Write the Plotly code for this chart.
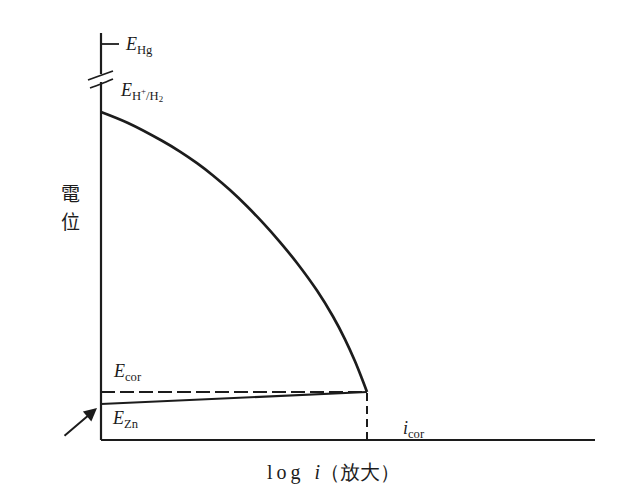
import plotly.graph_objects as go

# Schematic polarization diagram: potential vs log i (magnified)
# Units are arbitrary schematic units with the origin at the axis corner.

# cathodic curve of hydrogen evolution, from E(H+/H2) down to the corrosion point
curve_logi = [0, 27, 61, 79, 96, 112, 129, 146, 162, 179, 196, 216, 232, 244, 254, 261, 266]
curve_E = [328, 317, 299.2, 288.4, 276.8, 264.5, 249.9, 233.7, 217.1, 197.9, 177.0,
           149.4, 123.5, 100.7, 78.7, 61.2, 48]

# characteristic potentials
E_Hg = 396
E_H = 328
E_cor = 48
E_Zn = 36
i_cor = 266

# axis extents and break
axis_top = 407
axis_right = 494
break_low, break_high = 358, 367

INK = "#1c1c1c"
SERIF = "Liberation Serif, Times New Roman, serif"
CJK = "Noto Sans CJK TC, Noto Sans CJK JP, sans-serif"

fig = go.Figure()


def seg(xs, ys, width=2.0, dash="solid", shape="linear"):
    fig.add_trace(go.Scatter(
        x=xs, y=ys, mode="lines", hoverinfo="skip", showlegend=False,
        line=dict(color=INK, width=width, dash=dash, shape=shape),
    ))


# vertical potential axis, interrupted by a break
seg([0, 0], [0, break_low], width=2.2)
seg([0, 0], [break_high - 1, axis_top], width=2.2)
# break marks
seg([-13, -2, 12], [360, 364, 369], width=1.8, shape="spline")
seg([-11, 0, 12], [352, 356, 361], width=1.8, shape="spline")
# E_Hg tick
seg([0, 18], [E_Hg, E_Hg], width=1.8)

# horizontal log i axis
seg([0, axis_right], [0, 0], width=2.0)

# hydrogen cathodic curve
seg(curve_logi, curve_E, width=2.7, shape="spline")

# zinc anodic line from E_Zn to the corrosion point
seg([0, i_cor], [E_Zn, E_cor], width=2.2)

# dashed construction lines at E_cor and i_cor
seg([0, i_cor], [E_cor, E_cor], width=2.2, dash="14px,5px")
seg([i_cor, i_cor], [0, E_cor], width=2.0, dash="8px,5px")


def label(x, y, text, size=18, font=SERIF, xanchor="left"):
    fig.add_annotation(
        x=x, y=y, text=text, showarrow=False, xanchor=xanchor, yanchor="middle",
        font=dict(family=font, size=size, color=INK),
    )


label(22, E_Hg - 1, "<i>E</i><sub>Hg</sub>")
label(17, E_H + 20, "<i>E</i><sub>H<sup>+</sup>/H<sub>2</sub></sub>")
label(10, E_cor + 20, "<i>E</i><sub>cor</sub>")
label(9, E_Zn - 15, "<i>E</i><sub>Zn</sub>")
label(300, 11, "<i>i</i><sub>cor</sub>")
label(-42, 248, "電", size=19, font=CJK)
label(-42, 220, "位", size=19, font=CJK)
label(232, -32, "l\u2009o\u2009g\u2002\u2009<i>i</i>（放大）", size=20, xanchor="center")

# arrow pointing at E_Zn on the potential axis
fig.add_annotation(
    x=-4, y=32, ax=-38, ay=3, xref="x", yref="y", axref="x", ayref="y",
    text="", showarrow=True, arrowhead=2, arrowsize=1.3, arrowwidth=2,
    arrowcolor=INK,
)

fig.update_xaxes(range=[-101, 517], visible=False, fixedrange=True)
fig.update_yaxes(range=[-57, 440], visible=False, fixedrange=True)
fig.update_layout(
    width=618, height=497, margin=dict(l=0, r=0, t=0, b=0),
    paper_bgcolor="white", plot_bgcolor="white",
)

fig.write_html("out.html")
